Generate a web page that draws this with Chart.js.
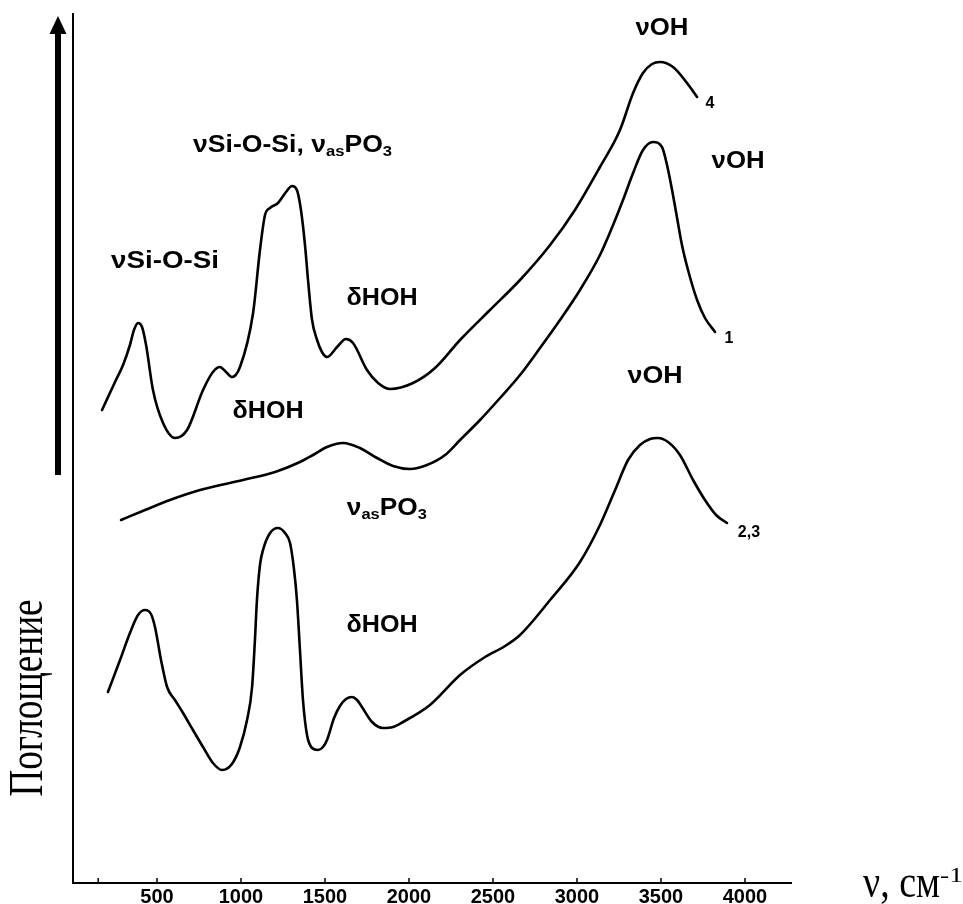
<!DOCTYPE html>
<html><head><meta charset="utf-8">
<script src="https://cdn.jsdelivr.net/npm/chart.js@4"></script>
<style>html,body{margin:0;padding:0;background:#fff;}canvas{display:block;}</style>
</head><body>
<canvas id="c" width="963" height="904" style="width:963px;height:904px"></canvas>
<script>
// ---- data (wavenumber, cm-1 / absorbance, arbitrary units) ----
const xTickValues = [150, 500, 1000, 1500, 2000, 2500, 3000, 3500, 4000];
const xTickLabels = ['', '500', '1000', '1500', '2000', '2500', '3000', '3500', '4000'];

const nu4 = [173,250,298,339,363,387,411,435,476,536,607,679,774,833,875,911,947,994,1072,1113,1143,1173,1220,1268,1304,1333,1357,1381,1399,1423,1453,1482,1512,1572,1625,1667,1750,1816,1887,2024,2155,2304,2482,2661,2840,2988,3137,3256,3334,3393,3447,3494,3572,3655,3715];
const abs4 = [47.2,50.0,51.7,53.7,55.2,55.9,55.5,53.7,49.2,45.9,44.4,45.2,49.2,51.0,51.5,51.0,50.5,51.5,56.9,63.2,66.7,67.4,67.9,69.0,69.6,69.2,67.2,63.7,60.2,56.2,54.2,53.0,52.5,53.5,54.3,53.9,51.2,49.9,49.3,49.9,51.4,54.2,57.2,60.2,63.7,67.2,71.5,75.2,78.9,80.9,81.8,82.0,81.5,79.9,78.5];

const nu1 = [286,429,577,756,1012,1203,1351,1429,1512,1607,1708,1810,1905,2006,2107,2215,2304,2423,2542,2661,2780,2899,3018,3137,3215,3274,3334,3393,3453,3506,3536,3566,3596,3625,3661,3715,3762,3822];
const abs1 = [36.2,37.2,38.2,39.2,40.2,41.0,42.0,42.7,43.5,43.9,43.4,42.4,41.6,41.3,41.7,42.7,44.2,46.2,48.4,50.7,53.4,56.2,59.2,62.7,65.7,68.2,70.9,73.2,74.0,73.5,71.7,69.2,66.4,63.7,61.2,58.2,56.4,55.0];

const nu23 = [208,280,339,387,429,464,488,524,560,607,655,714,774,833,887,946,994,1036,1066,1083,1095,1113,1131,1173,1220,1262,1292,1316,1333,1351,1369,1393,1423,1458,1488,1512,1554,1589,1625,1661,1691,1720,1780,1845,1905,1964,2125,2304,2453,2572,2661,2840,3018,3137,3227,3304,3375,3435,3482,3542,3613,3691,3762,3828,3893];
const abs23 = [19.0,22.2,24.9,26.7,27.2,26.8,25.5,22.2,19.5,18.2,16.9,15.2,13.5,11.9,11.2,11.8,13.5,16.2,19.5,24.2,28.2,31.7,33.2,34.9,35.4,34.9,33.9,31.2,28.2,23.2,18.2,14.7,13.4,13.2,13.5,14.2,16.4,17.6,18.3,18.5,18.2,17.5,16.0,15.4,15.5,16.0,17.7,20.7,22.5,23.6,24.7,28.2,32.0,35.7,39.2,42.2,43.7,44.3,44.4,44.0,42.7,40.2,38.2,36.7,35.9];

const seriesNames = ['4', '1', '2,3'];

// ---- annotations (anchored in data coordinates) ----
const SANS = '"Liberation Sans", Arial, Helvetica, sans-serif';
const SERIF = '"Liberation Serif", "Times New Roman", serif';
const notes = [
  {parts:[['ν'],['OH']], x:3506, y:84.7, w:53},
  {parts:[['ν'],['OH']], x:3959, y:71.4, w:53},
  {parts:[['ν'],['OH']], x:3465, y:49.9, w:55},
  {parts:[['ν'],['Si-O-Si, '],['ν'],['as',1],['PO'],['3',1]], x:1307, y:73.0, w:199},
  {parts:[['ν'],['Si-O-Si']], x:548, y:61.4, w:108},
  {parts:[['δ'],['HOH']], x:1840, y:57.7, w:71},
  {parts:[['δ'],['HOH']], x:1161, y:46.4, w:71},
  {parts:[['ν'],['as',1],['PO'],['3',1]], x:1868, y:36.7, w:80},
  {parts:[['δ'],['HOH']], x:1840, y:25.0, w:71},
  {parts:[[seriesNames[0]]], x:3792, y:77.4, small:true},
  {parts:[[seriesNames[1]]], x:3905, y:53.9, small:true},
  {parts:[[seriesNames[2]]], x:4024, y:34.5, small:true}
];

function pts(xs, ys){ return xs.map((v,i)=>({x:v, y:ys[i]})); }

function drawRich(ctx, parts, cx, by, targetW, small){
  const big = small ? 16 : 24, sub = 15;
  let W = 0;
  const m = parts.map(p=>{
    ctx.font = 'bold ' + (p[1] ? sub : big) + 'px ' + SANS;
    const w = ctx.measureText(p[0]).width; W += w; return w;
  });
  const s = targetW ? targetW / W : 1;
  ctx.save();
  ctx.translate(cx, by);
  ctx.scale(s, 1);
  ctx.textAlign = 'left'; ctx.textBaseline = 'alphabetic';
  let x = -W/2;
  parts.forEach((p,i)=>{
    ctx.font = 'bold ' + (p[1] ? sub : big) + 'px ' + SANS;
    ctx.fillText(p[0], x, p[1] ? 4 : 0);
    x += m[i];
  });
  ctx.restore();
}

const deco = {
  id:'deco',
  afterDraw(chart){
    const ctx = chart.ctx, xs = chart.scales.x, ys = chart.scales.y;
    const L = xs.left, R = xs.right, B = ys.bottom, T = ys.top;
    ctx.save();
    ctx.fillStyle = '#000'; ctx.strokeStyle = '#000';
    // axes
    ctx.lineWidth = 2;
    ctx.beginPath(); ctx.moveTo(L, T); ctx.lineTo(L, B + 1); ctx.lineTo(R, B + 1); ctx.stroke();
    // ticks + labels
    ctx.lineWidth = 1.5;
    ctx.font = 'bold 20px ' + SANS; ctx.textAlign = 'center'; ctx.textBaseline = 'alphabetic';
    xTickValues.forEach((v,i)=>{
      const px = xs.getPixelForValue(v);
      ctx.beginPath(); ctx.moveTo(px, B - 4); ctx.lineTo(px, B + 2); ctx.stroke();
      if (xTickLabels[i]) ctx.fillText(xTickLabels[i], px, B + 21);
    });
    // arrow (absorption direction)
    ctx.fillRect(55, 32, 6, 443);
    ctx.beginPath(); ctx.moveTo(58, 16); ctx.lineTo(66.5, 34); ctx.lineTo(49.5, 34); ctx.closePath(); ctx.fill();
    // annotations
    notes.forEach(n=>{
      drawRich(ctx, n.parts, xs.getPixelForValue(n.x), ys.getPixelForValue(n.y), n.w, n.small);
    });
    // y title
    ctx.save();
    ctx.translate(42, 698); ctx.rotate(-Math.PI/2);
    ctx.font = '48px ' + SERIF;
    const yt = 'Поглощение';
    const ytw = ctx.measureText(yt).width;
    ctx.scale(197 / ytw, 1);
    ctx.textAlign = 'center'; ctx.textBaseline = 'alphabetic';
    ctx.fillText(yt, 0, 0);
    ctx.restore();
    // x title
    ctx.save();
    ctx.font = '46px ' + SERIF;
    const xt = 'ν, см';
    const xtw = ctx.measureText(xt).width;
    ctx.translate(863, 897); ctx.scale(77 / xtw, 1);
    ctx.textAlign = 'left'; ctx.fillText(xt, 0, 0);
    ctx.restore();
    ctx.save();
    ctx.font = '22px ' + SERIF;
    const st = '-1';
    const stw = ctx.measureText(st).width;
    ctx.translate(940, 882); ctx.scale(23 / stw, 1);
    ctx.textAlign = 'left'; ctx.fillText(st, 0, 0);
    ctx.restore();
    ctx.restore();
  }
};

const lineStyle = {borderColor:'#000', backgroundColor:'#000', borderWidth:2.6, pointRadius:0, showLine:true,
  cubicInterpolationMode:'monotone', fill:false, borderCapStyle:'round', borderJoinStyle:'round'};

new Chart(document.getElementById('c'), {
  type:'scatter',
  data:{datasets:[
    Object.assign({label:seriesNames[0], data:pts(nu4, abs4)}, lineStyle),
    Object.assign({label:seriesNames[1], data:pts(nu1, abs1)}, lineStyle),
    Object.assign({label:seriesNames[2], data:pts(nu23, abs23)}, lineStyle)
  ]},
  options:{
    responsive:false, devicePixelRatio:1, animation:false,
    layout:{padding:{left:73, right:171, top:13, bottom:22}},
    plugins:{legend:{display:false}, tooltip:{enabled:false}},
    scales:{
      x:{type:'linear', min:0, max:4280, display:false},
      y:{type:'linear', min:0, max:86.9, display:false}
    }
  },
  plugins:[deco]
});
</script>
</body></html>
